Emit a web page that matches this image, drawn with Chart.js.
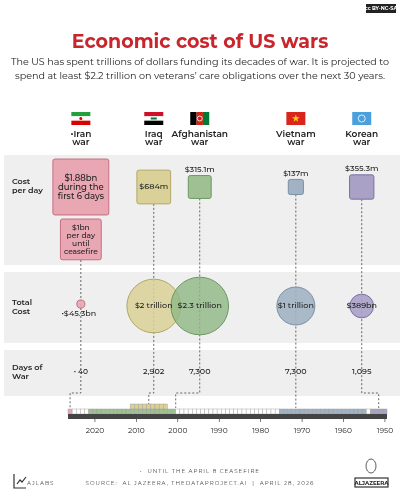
<!DOCTYPE html>
<html>
<head>
<meta charset="utf-8">
<script src="https://cdn.jsdelivr.net/npm/chart.js@4"></script>
<style>
  body { margin: 0; background: #fff; }
  #wrap { width: 400px; height: 500px; }
</style>
</head>
<body>
<div id="wrap"><canvas id="warChart" width="400" height="500"></canvas></div>
<script>
// Data
const wars = ['Iran', 'Iraq', 'Afghanistan', 'Vietnam', 'Korean'];
const columnYear = [2023.4, 2005.8, 1994.7, 1971.5, 1955.6];
const costPerDayM = [1880, 684, 315.1, 137, 355.3];
const costPerDayLabels = ['$1.88bn', '$684m', '$315.1m', '$137m', '$355.3m'];
const totalCostBn = [45.3, 2000, 2300, 1000, 389];
const totalCostLabels = ['•$45.3bn', '$2 trillion', '$2.3 trillion', '$1 trillion', '$389bn'];
const daysOfWar = ['• 40', '2,902', '7,300', '7,300', '1,095'];
const startYear = [2026, 2003, 2001, 1955, 1950];
const endYear = [2026, 2011, 2021, 1975, 1953];
const yearTicks = [2020, 2010, 2000, 1990, 1980, 1970, 1960, 1950];

const fills = ['#e9a6b3', '#d9d197', '#9fc093', '#a1b2c2', '#a9a1c6'];
const edges = ['#c46f80', '#b1a766', '#6c9862', '#7890a6', '#7a70a3'];
const bubbleFills = ['rgba(233,166,179,0.9)', 'rgba(217,209,151,0.85)', 'rgba(143,184,132,0.8)', 'rgba(161,178,194,0.9)', 'rgba(169,161,198,0.9)'];

const F = 'Montserrat, "Open Sans", "Noto Sans", sans-serif';
const ROW_Y = { square: 187, bubble: 306, days: 372, line: 393 };

function squareSide(m) { return 1.29 * Math.sqrt(m); }

function flag(ctx, i, cx, y) {
  const w = 19, h = 13, x = cx - w / 2;
  if (i === 0) {
    ctx.fillStyle = '#239f40'; ctx.fillRect(x, y, w, h / 3);
    ctx.fillStyle = '#fff'; ctx.fillRect(x, y + h / 3, w, h / 3);
    ctx.fillStyle = '#da0000'; ctx.fillRect(x, y + 2 * h / 3, w, h / 3);
    ctx.fillStyle = '#da0000'; ctx.beginPath(); ctx.arc(cx, y + h / 2, 1.5, 0, 7); ctx.fill();
  } else if (i === 1) {
    ctx.fillStyle = '#ce1126'; ctx.fillRect(x, y, w, h / 3);
    ctx.fillStyle = '#fff'; ctx.fillRect(x, y + h / 3, w, h / 3);
    ctx.fillStyle = '#000'; ctx.fillRect(x, y + 2 * h / 3, w, h / 3);
    ctx.fillStyle = '#007a3d'; ctx.fillRect(cx - 3, y + h / 2 - 1, 6, 2);
  } else if (i === 2) {
    ctx.fillStyle = '#000'; ctx.fillRect(x, y, w / 3, h);
    ctx.fillStyle = '#d32011'; ctx.fillRect(x + w / 3, y, w / 3, h);
    ctx.fillStyle = '#007a36'; ctx.fillRect(x + 2 * w / 3, y, w / 3, h);
    ctx.strokeStyle = '#fff'; ctx.lineWidth = 0.8; ctx.beginPath(); ctx.arc(cx, y + h / 2, 2.5, 0, 7); ctx.stroke();
  } else if (i === 3) {
    ctx.fillStyle = '#da251d'; ctx.fillRect(x, y, w, h);
    ctx.fillStyle = '#ffcd00'; ctx.beginPath();
    for (let k = 0; k < 10; k++) {
      const r = k % 2 ? 1.6 : 4, a = -Math.PI / 2 + k * Math.PI / 5;
      ctx.lineTo(cx + r * Math.cos(a), y + h / 2 + r * Math.sin(a));
    }
    ctx.fill();
  } else {
    ctx.fillStyle = '#4b9fdc'; ctx.fillRect(x, y, w, h);
    ctx.strokeStyle = '#fff'; ctx.lineWidth = 0.8; ctx.beginPath(); ctx.arc(cx, y + h / 2, 3.5, 0, 7); ctx.stroke();
  }
}

function rrect(ctx, x, y, w, h, r, fill, stroke) {
  ctx.beginPath(); ctx.roundRect(x, y, w, h, r);
  ctx.fillStyle = fill; ctx.fill();
  ctx.strokeStyle = stroke; ctx.lineWidth = 1; ctx.stroke();
}

function lines(ctx, arr, x, y, lh) {
  arr.forEach((t, k) => ctx.fillText(t, x, y + k * lh));
}

const backdrop = {
  id: 'backdrop',
  beforeDatasetsDraw(chart) {
    const ctx = chart.ctx, xs = chart.scales.x;
    ctx.save();
    // title block
    ctx.textAlign = 'center'; ctx.textBaseline = 'middle';
    ctx.fillStyle = '#c8262c'; ctx.font = 'bold 19px ' + F;
    ctx.fillText('Economic cost of US wars', 200, 42);
    ctx.fillStyle = '#222'; ctx.font = '9.6px ' + F;
    ctx.fillText('The US has spent trillions of dollars funding its decades of war. It is projected to', 200, 62);
    ctx.fillText('spend at least $2.2 trillion on veterans\u2019 care obligations over the next 30 years.', 200, 76);
    // cc badge
    ctx.fillStyle = '#222'; ctx.fillRect(366, 4, 30, 9);
    ctx.fillStyle = '#fff'; ctx.font = 'bold 5px ' + F; ctx.fillText('cc BY-NC-SA', 381, 8.7);

    // bands
    ctx.fillStyle = '#efefef';
    ctx.fillRect(4, 155, 396, 110);
    ctx.fillRect(4, 272, 396, 71);
    ctx.fillRect(4, 350, 396, 46);
    ctx.fillStyle = '#222'; ctx.textAlign = 'left'; ctx.font = '600 8px ' + F;
    lines(ctx, ['Cost', 'per day'], 12, 182, 8.5);
    lines(ctx, ['Total', 'Cost'], 12, 303, 8.5);
    lines(ctx, ['Days of', 'War'], 12, 368, 8.5);

    // column headers + dashed connectors
    wars.forEach((w, i) => {
      const cx = xs.getPixelForValue(columnYear[i]);
      flag(ctx, i, cx, 112);
      ctx.fillStyle = '#222'; ctx.textAlign = 'center'; ctx.font = '600 9px ' + F;
      lines(ctx, [(i === 0 ? '\u2022' : '') + w, 'war'], cx, 134, 8.5);

      ctx.strokeStyle = '#444'; ctx.lineWidth = 0.8; ctx.setLineDash([2, 2]);
      const start = (i === 0 ? 260 : ROW_Y.square + squareSide(costPerDayM[i]) / 2);
      const midYear = (startYear[i] + endYear[i]) / 2;
      let targetYear = midYear;
      if (i === 0) targetYear = 2026;
      if (i === 2) targetYear = startYear[i] - 0.5;
      if (i === 3) targetYear = columnYear[i];
      const tx = xs.getPixelForValue(targetYear);
      const endY = i === 1 ? 404 : 408;
      ctx.beginPath(); ctx.moveTo(cx, start);
      if (Math.abs(tx - cx) > 3) {
        ctx.lineTo(cx, ROW_Y.line); ctx.lineTo(tx, ROW_Y.line); ctx.lineTo(tx, endY);
      } else ctx.lineTo(cx, endY);
      ctx.stroke(); ctx.setLineDash([]);
    });

    // cost-per-day squares
    wars.forEach((w, i) => {
      const cx = xs.getPixelForValue(columnYear[i]);
      const s = squareSide(costPerDayM[i]);
      rrect(ctx, cx - s / 2, ROW_Y.square - s / 2, s, s, 2, fills[i], edges[i]);
      ctx.fillStyle = '#222'; ctx.textAlign = 'center'; ctx.font = '500 8px ' + F;
      if (i === 0) {
        ctx.font = '500 8.5px ' + F;
        lines(ctx, [costPerDayLabels[i], 'during the', 'first 6 days'], cx, ROW_Y.square - 9, 9);
        const s2 = squareSide(1000);
        rrect(ctx, cx - s2 / 2, 219, s2, s2, 2, fills[i], edges[i]);
        ctx.fillStyle = '#222'; ctx.font = '500 7.5px ' + F;
        lines(ctx, ['$1bn', 'per day', 'until', 'ceasefire'], cx, 228, 8);
      } else if (i === 1) {
        ctx.fillText(costPerDayLabels[i], cx, ROW_Y.square);
      } else {
        ctx.fillText(costPerDayLabels[i], cx, ROW_Y.square - s / 2 - 6);
      }
      ctx.fillText(daysOfWar[i], cx, ROW_Y.days);
    });

    // timeline cells
    const y0 = 2026, y1 = 1950;
    for (let yr = y0; yr >= y1; yr--) {
      const a = xs.getPixelForValue(yr + 0.5), b = xs.getPixelForValue(yr - 0.5);
      let c = '#fff';
      [2, 3, 4, 0].forEach(i => { if (yr <= endYear[i] && yr >= startYear[i]) c = fills[i]; });
      ctx.fillStyle = c; ctx.fillRect(a, 409, b - a, 5);
      ctx.strokeStyle = '#999'; ctx.lineWidth = 0.4; ctx.strokeRect(a, 409, b - a, 5);
      if (yr <= endYear[1] && yr >= startYear[1]) {
        ctx.fillStyle = fills[1]; ctx.fillRect(a, 404, b - a, 5); ctx.strokeRect(a, 404, b - a, 5);
      }
    }
    const L = xs.getPixelForValue(y0 + 0.5), R = xs.getPixelForValue(y1 - 0.5);
    ctx.fillStyle = '#444'; ctx.fillRect(L, 414, R - L, 5);
    ctx.fillStyle = '#222'; ctx.font = '7.5px ' + F; ctx.textAlign = 'center';
    yearTicks.forEach(t => {
      const px = xs.getPixelForValue(t);
      ctx.fillRect(px - 0.3, 419, 0.6, 3);
      ctx.fillText(String(t), px, 431);
    });

    // footer
    ctx.fillStyle = '#444'; ctx.font = '5.5px ' + F;
    ctx.letterSpacing = '1px';
    ctx.fillText('\u2022  UNTIL THE APRIL 8 CEASEFIRE', 200, 471);
    ctx.fillText('SOURCE:  AL JAZEERA, THEDATAPROJECT.AI  |  APRIL 28, 2026', 200, 483);
    ctx.textAlign = 'left'; ctx.fillText('AJLABS', 27, 483);
    ctx.letterSpacing = '0px';
    ctx.strokeStyle = '#333'; ctx.lineWidth = 1.2;
    ctx.beginPath(); ctx.moveTo(14, 474); ctx.lineTo(14, 488); ctx.lineTo(26, 488);
    ctx.moveTo(17, 484); ctx.lineTo(20, 480); ctx.lineTo(22, 482); ctx.lineTo(26, 477); ctx.stroke();
    ctx.strokeRect(355, 478, 33, 9);
    ctx.fillStyle = '#222'; ctx.font = 'bold 5.5px ' + F; ctx.textAlign = 'center';
    ctx.fillText('ALJAZEERA', 371.5, 483);
    ctx.beginPath(); ctx.ellipse(371, 466, 5, 7, 0, 0, 7); ctx.lineWidth = 0.8; ctx.stroke();
    ctx.restore();
  },
  afterDatasetsDraw(chart) {
    const ctx = chart.ctx, xs = chart.scales.x;
    ctx.save();
    ctx.fillStyle = '#222'; ctx.textAlign = 'center'; ctx.textBaseline = 'middle';
    ctx.font = '500 8px ' + F;
    wars.forEach((w, i) => {
      const cx = xs.getPixelForValue(columnYear[i]);
      ctx.fillText(totalCostLabels[i], i === 0 ? cx - 2 : cx, i === 0 ? ROW_Y.bubble + 8 : ROW_Y.bubble);
    });
    ctx.restore();
  }
};

new Chart(document.getElementById('warChart'), {
  type: 'bubble',
  data: {
    datasets: [{
      data: wars.map((w, i) => ({
        x: columnYear[i],
        y: ROW_Y.bubble - (i === 0 ? 2 : 0),
        r: 19 * Math.sqrt(totalCostBn[i] / 1000)
      })),
      backgroundColor: bubbleFills,
      borderColor: edges,
      borderWidth: 1,
      clip: false
    }]
  },
  options: {
    responsive: false,
    animation: false,
    layout: { autoPadding: false, padding: { left: 68, right: 13, top: 0, bottom: 0 } },
    plugins: { legend: { display: false }, tooltip: { enabled: false } },
    scales: {
      x: { type: 'linear', min: 1950 - 0.5, max: 2026 + 0.5, reverse: true, display: false },
      y: { type: 'linear', min: 0, max: 500, reverse: true, display: false }
    }
  },
  plugins: [backdrop]
});
</script>
</body>
</html>
